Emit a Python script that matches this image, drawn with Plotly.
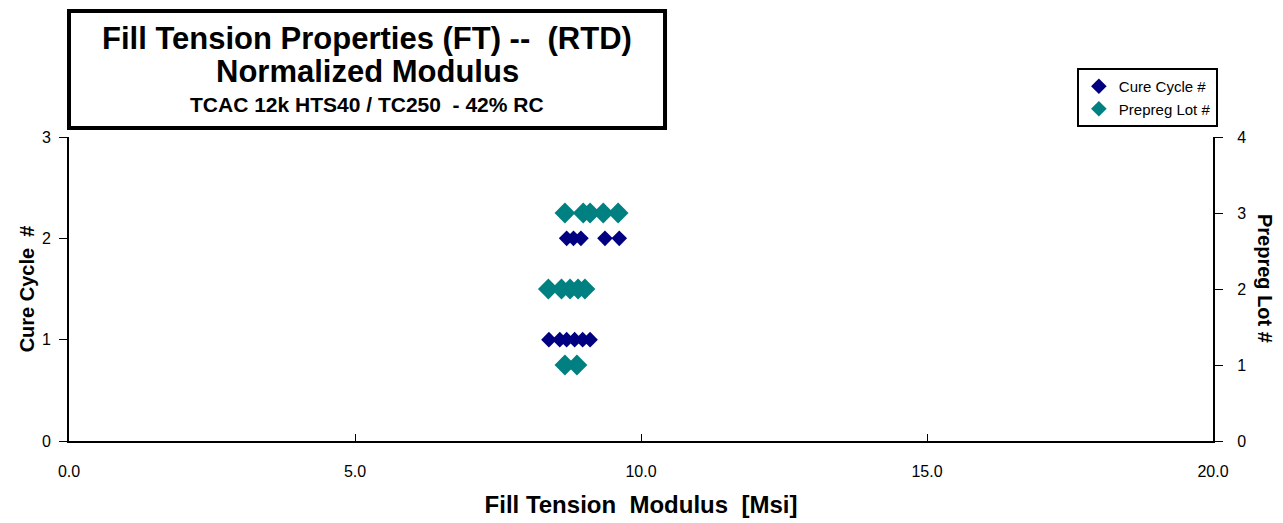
import plotly.graph_objects as go

# modulus values [Msi]
cure_cycle_1 = [8.39, 8.58, 8.70, 8.84, 8.98, 9.11]
cure_cycle_2 = [8.70, 8.82, 8.95, 9.37, 9.62]
lot_1 = [8.67, 8.88]
lot_2 = [8.38, 8.61, 8.76, 8.90, 9.02]
lot_3 = [8.67, 8.99, 9.11, 9.34, 9.60]

cure_x = cure_cycle_1 + cure_cycle_2
cure_y = [1] * len(cure_cycle_1) + [2] * len(cure_cycle_2)
lot_x = lot_1 + lot_2 + lot_3
lot_y = [1] * len(lot_1) + [2] * len(lot_2) + [3] * len(lot_3)

x_ticks = [0, 5, 10, 15, 20]
x_labels = ["0.0", "5.0", "10.0", "15.0", "20.0"]

font = "Liberation Sans, Arial, sans-serif"

fig = go.Figure()
fig.add_trace(go.Scatter(x=cure_x, y=cure_y, mode="markers", name="Cure Cycle #",
                         marker=dict(symbol="diamond", size=12, color="#000080")))
fig.add_trace(go.Scatter(x=lot_x, y=lot_y, mode="markers", name="Prepreg Lot #", yaxis="y2",
                         marker=dict(symbol="diamond", size=16, color="#008080")))

# the page has an 8px body margin, so the figure is drawn 8px smaller
fig.update_layout(
    width=1275, height=515,
    margin=dict(l=61, r=70, t=129, b=82),
    paper_bgcolor="white", plot_bgcolor="white",
    font=dict(family=font, color="black", size=16),
    showlegend=True,
    legend=dict(x=0.881, y=1.227, xanchor="left", yanchor="top",
                bordercolor="black", borderwidth=2, bgcolor="white",
                font=dict(size=15), itemsizing="constant",
                tracegroupgap=0, itemwidth=30),
    xaxis=dict(range=[0, 20], tickvals=x_ticks, ticktext=x_labels, automargin=False,
               showgrid=False, zeroline=False, showline=True, linecolor="black", linewidth=2,
               ticks="inside", ticklen=7, tickcolor="black",
               tickfont=dict(size=16), ticklabelstandoff=15,
               title=dict(text="<b>Fill Tension  Modulus  [Msi]</b>", font=dict(size=24), standoff=17)),
    yaxis=dict(range=[0, 3], dtick=1, showgrid=False, zeroline=False, automargin=False,
               showline=True, linecolor="black", linewidth=2,
               ticks="outside", ticklen=8, tickcolor="black", tickfont=dict(size=16),
               ticklabelstandoff=5,
               title=dict(text="<b>Cure Cycle  #</b>", font=dict(size=20), standoff=2)),
    yaxis2=dict(range=[0, 4], dtick=1, overlaying="y", side="right", showgrid=False,
                zeroline=False, showline=True, linecolor="black", linewidth=2, automargin=False,
                ticks="outside", ticklen=8, tickcolor="black", tickfont=dict(size=16),
                ticklabelstandoff=11),
)

# title box (top edge kept inside the figure)
fig.add_shape(type="rect", xref="paper", yref="paper", x0=0, x1=0.521,
              y0=(441 - 128) / 304, y1=(441 - 11) / 304,
              line=dict(color="black", width=4), fillcolor="white", layer="above")
fig.add_annotation(xref="paper", yref="paper", x=0.2605, y=(441 - 38) / 304, showarrow=False,
                   xanchor="center", yanchor="middle",
                   text="<b>Fill Tension Properties (FT) --  (RTD)</b>", font=dict(size=31))
fig.add_annotation(xref="paper", yref="paper", x=0.2605, y=(441 - 72) / 304, showarrow=False,
                   xanchor="center", yanchor="middle",
                   text="<b>Normalized Modulus</b>", font=dict(size=31))
fig.add_annotation(xref="paper", yref="paper", x=0.2605, y=(441 - 104) / 304, showarrow=False,
                   xanchor="center", yanchor="middle",
                   text="<b>TCAC 12k HTS40 / TC250  - 42% RC</b>", font=dict(size=21))
# right axis title, reads top to bottom
fig.add_annotation(xref="paper", yref="paper", x=(1265 - 69) / 1144, y=(441 - 278) / 304,
                   showarrow=False, textangle=90, xanchor="center", yanchor="middle",
                   text="<b>Prepreg Lot #</b>", font=dict(size=20))

fig.write_html("out.html")
